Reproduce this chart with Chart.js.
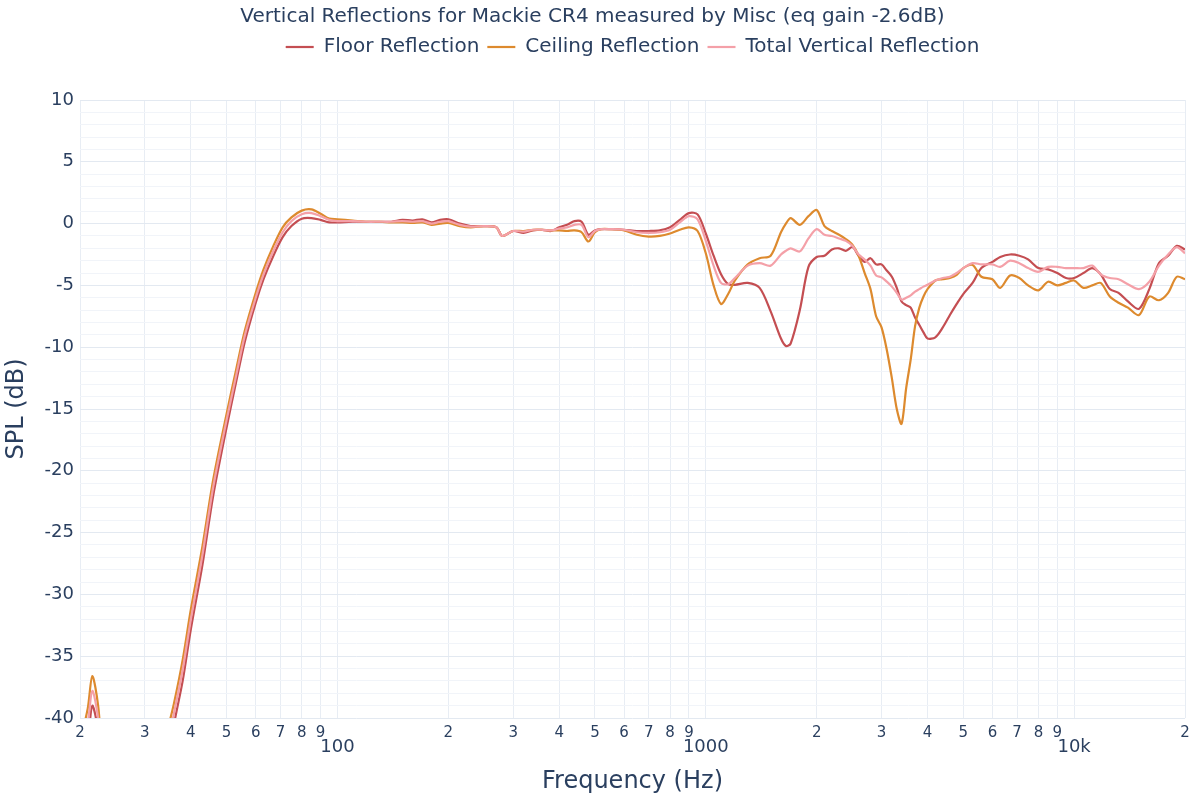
<!DOCTYPE html>
<html lang="en">
<head>
    <meta charset="UTF-8">
    <title>Vertical Reflections</title>
    <script src="https://cdn.jsdelivr.net/npm/chart.js"></script>
    <style>
        body { margin: 0; background: #fff; }
    </style>
</head>
<body>
    <div style="width:1200px; height:800px;">
        <canvas id="grafico1" width="1200" height="800"></canvas>
    </div>

    <script>
        const fonte = "'DejaVu Sans', Verdana, sans-serif"
        const corTexto = "#2a3f5f"

        // frequencias (Hz)
        const freqs = [20, 21, 21.6, 22.4, 23, 25, 30, 34, 36, 38, 40, 43, 46, 50, 53, 56, 60, 63, 67, 71, 75, 80, 85, 90, 95,
            100, 110, 120, 130, 140, 150, 160, 170, 180, 190, 200, 215, 230, 250, 270, 280, 300, 320, 340, 360, 380, 400,
            420, 440, 460, 480, 500, 520, 550, 600, 650, 700, 750, 800, 850, 900, 950, 1000, 1050, 1100, 1150, 1200, 1300,
            1400, 1500, 1600, 1650, 1700, 1800, 1900, 2000, 2100, 2200, 2300, 2400, 2500, 2600, 2700, 2800, 2900, 3000,
            3100, 3200, 3300, 3400, 3500, 3600, 3700, 3800, 3900, 4000, 4200, 4400, 4600, 4800, 5000, 5300, 5600, 6000,
            6300, 6700, 7100, 7500, 8000, 8500, 9000, 9500, 10000, 10600, 11200, 11800, 12500, 13200, 14000, 15000,
            16000, 17000, 18000, 19000, 20000]

        const floorRefl = [-43, -41.5, -39.0, -41.0, -44, -52, -55, -45, -40.5, -37.0, -32.8, -27.6, -22.0, -16.5, -12.9, -9.6, -6.4, -4.5, -2.6, -1.1, -0.2, 0.4, 0.45, 0.3, 0.1,
            0.1, 0.15, 0.15, 0.15, 0.15, 0.3, 0.25, 0.35, 0.1, 0.3, 0.35, 0.0, -0.2, -0.2, -0.3, -1.0, -0.6, -0.75, -0.55, -0.5, -0.6, -0.3,
            -0.1, 0.2, 0.15, -0.9, -0.55, -0.45, -0.45, -0.5, -0.6, -0.6, -0.55, -0.3, 0.3, 0.85, 0.75, -0.8, -2.6, -4.1, -4.9, -4.95, -4.8,
            -5.2, -7.1, -9.3, -9.9, -9.7, -7.0, -3.5, -2.7, -2.6, -2.1, -2.0, -2.2, -1.9, -2.6, -3.1, -2.8, -3.3, -3.3,
            -3.8, -4.3, -5.2, -6.3, -6.6, -6.8, -7.6, -8.2, -8.8, -9.3, -9.2, -8.4, -7.4, -6.5, -5.7, -4.8, -3.6, -3.1,
            -2.7, -2.5, -2.6, -2.9, -3.6, -3.7, -4.0, -4.4, -4.4, -4.0, -3.6, -4.1, -5.3, -5.6, -6.3, -6.9,
            -5.3, -3.2, -2.6, -1.8, -2.1]

        const ceilingRefl = [-42, -39.2, -36.6, -39.0, -43, -50, -52, -42, -38.8, -35.3, -31.2, -26.1, -20.7, -15.4, -11.9, -8.7, -5.6, -3.7, -1.8, -0.3, 0.5, 1.05, 1.15, 0.8, 0.4,
            0.35, 0.25, 0.15, 0.15, 0.1, 0.1, 0.05, 0.1, -0.1, 0.0, 0.05, -0.2, -0.3, -0.2, -0.3, -1.0, -0.6, -0.6, -0.5, -0.5, -0.55, -0.55,
            -0.6, -0.55, -0.7, -1.45, -0.7, -0.45, -0.45, -0.55, -0.9, -1.05, -1.0, -0.8, -0.5, -0.3, -0.6, -2.4, -5.0, -6.5, -5.7, -4.6, -3.3,
            -2.8, -2.6, -0.7, 0.0, 0.45, -0.1, 0.6, 1.1, -0.2, -0.6, -0.9, -1.25, -1.7, -2.6, -4.0, -5.3, -7.5, -8.4,
            -10.2, -12.5, -15.0, -16.2, -13.3, -11.0, -8.3, -6.8, -5.9, -5.3, -4.6, -4.5, -4.4, -4.15, -3.6, -3.35, -4.3, -4.5,
            -5.2, -4.2, -4.4, -5.0, -5.4, -4.7, -5.0, -4.8, -4.6, -5.2, -5.0, -4.8, -5.9, -6.4, -6.8, -7.4,
            -5.9, -6.2, -5.6, -4.3, -4.5]

        const totalRefl = [-42.5, -40.3, -37.8, -40.0, -43.5, -51, -53.5, -43.5, -39.6, -36.1, -32.0, -26.8, -21.3, -15.9, -12.4, -9.1, -6.0, -4.1, -2.2, -0.7, 0.2, 0.75, 0.85, 0.6, 0.3,
            0.2, 0.2, 0.15, 0.15, 0.15, 0.2, 0.15, 0.2, 0.0, 0.15, 0.2, -0.1, -0.25, -0.2, -0.3, -1.0, -0.6, -0.65, -0.5, -0.5, -0.55, -0.4,
            -0.3, -0.1, -0.1, -1.1, -0.6, -0.45, -0.45, -0.5, -0.7, -0.75, -0.7, -0.5, 0.1, 0.6, 0.35, -1.4, -3.4, -4.8, -4.9, -4.4, -3.4,
            -3.2, -3.4, -2.5, -2.2, -2.0, -2.25, -1.2, -0.45, -0.9, -1.0, -1.2, -1.4, -1.8, -2.5, -2.9, -3.4, -4.2, -4.35,
            -4.7, -5.1, -5.6, -6.15, -6.0, -5.8, -5.5, -5.3, -5.1, -4.95, -4.6, -4.4, -4.3, -4.0, -3.6, -3.2, -3.3, -3.3,
            -3.5, -3.0, -3.2, -3.6, -3.9, -3.5, -3.5, -3.6, -3.6, -3.6, -3.4, -4.1, -4.4, -4.5, -4.9, -5.3,
            -4.7, -3.4, -2.5, -1.9, -2.4]

        // ticks do eixo x
        const xTicks = [20, 30, 40, 50, 60, 70, 80, 90, 100, 200, 300, 400, 500, 600, 700, 800, 900,
            1000, 2000, 3000, 4000, 5000, 6000, 7000, 8000, 9000, 10000, 20000]
        const xMajor = { 100: "100", 1000: "1000", 10000: "10k" }

        const serie = (vals) => freqs.map((f, i) => ({ x: f, y: vals[i] }))

        // reposiciona titulo e legenda (legenda centrada na area do grafico)
        const posicionar = {
            id: "posicionar",
            afterLayout(chart) {
                const t = chart.titleBlock
                const dyT = 5 - t.top
                t.top += dyT
                t.bottom += dyT

                const lg = chart.legend
                const dx = (chart.chartArea.left + chart.chartArea.right) / 2 - (lg.left + lg.right) / 2
                const dy = 29 - lg.top
                lg.left += dx
                lg.right += dx
                lg.top += dy
                lg.bottom += dy
            }
        }

        const ctx = document.getElementById("grafico1")

        new Chart(ctx, {
            type: "line",
            data: {
                datasets: [
                    { label: "Floor Reflection", data: serie(floorRefl), borderColor: "#c44e52", backgroundColor: "#c44e52", borderWidth: 2.2, order: 2 },
                    { label: "Ceiling Reflection", data: serie(ceilingRefl), borderColor: "#dd8a2e", backgroundColor: "#dd8a2e", borderWidth: 2.2, order: 1 },
                    { label: "Total Vertical Reflection", data: serie(totalRefl), borderColor: "#f4a0a8", backgroundColor: "#f4a0a8", borderWidth: 2.2, order: 0 }
                ]
            },
            plugins: [posicionar],
            options: {
                responsive: false,
                animation: false,
                layout: { padding: { left: 0, right: 15, top: 34, bottom: 0 } },
                elements: {
                    point: { radius: 0 },
                    line: { tension: 0.3 }
                },
                plugins: {
                    title: {
                        display: true,
                        text: "Vertical Reflections for Mackie CR4 measured by Misc (eq gain -2.6dB)",
                        color: corTexto,
                        font: { family: fonte, size: 20, weight: "normal" },
                        padding: { top: 0, bottom: 4 }
                    },
                    legend: {
                        labels: {
                            color: corTexto,
                            font: { family: fonte, size: 20 },
                            usePointStyle: true,
                            pointStyle: "line",
                            pointStyleWidth: 28,
                            padding: 8,
                            sort: (a, b) => a.datasetIndex - b.datasetIndex
                        }
                    },
                    tooltip: { enabled: false }
                },
                scales: {
                    x: {
                        type: "logarithmic",
                        min: 20,
                        max: 20000,
                        afterBuildTicks: (scale) => { scale.ticks = xTicks.map(v => ({ value: v })) },
                        afterFit: (scale) => { scale.height = 82 },
                        border: { display: false },
                        grid: { color: "#e8edf4", drawTicks: false },
                        ticks: {
                            autoSkip: false,
                            maxRotation: 0,
                            padding: 6,
                            color: corTexto,
                            font: (c) => (c.tick && xMajor[c.tick.value])
                                ? { family: fonte, size: 18, lineHeight: 0.85 }
                                : { family: fonte, size: 15 },
                            callback: (v) => xMajor[v] ? ["", xMajor[v]] : String(v).charAt(0)
                        },
                        title: {
                            display: true,
                            text: "Frequency (Hz)",
                            color: corTexto,
                            font: { family: fonte, size: 24 },
                            padding: { top: 0, bottom: 4 }
                        }
                    },
                    y: {
                        min: -40,
                        max: 10,
                        afterFit: (scale) => { scale.width = 80 },
                        border: { display: false },
                        grid: {
                            drawTicks: false,
                            color: (c) => (c.tick && c.tick.value % 5 === 0) ? "#e3e9f1" : "#f1f4f9"
                        },
                        ticks: {
                            stepSize: 1,
                            maxTicksLimit: 100,
                            autoSkip: false,
                            padding: 6,
                            color: corTexto,
                            font: { family: fonte, size: 18 },
                            callback: (v) => v % 5 === 0 ? String(v) : ""
                        },
                        title: {
                            display: true,
                            text: "SPL (dB)",
                            color: corTexto,
                            font: { family: fonte, size: 24 },
                            padding: { top: 2, bottom: 0 }
                        }
                    }
                }
            }
        })
    </script>
</body>
</html>
